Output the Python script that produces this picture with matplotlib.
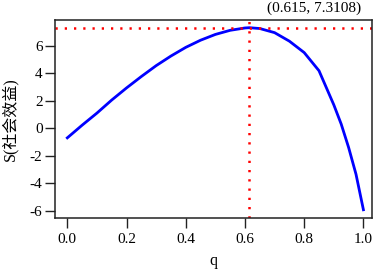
import matplotlib
matplotlib.use('Agg')
import matplotlib.pyplot as plt
from matplotlib.ticker import FormatStrFormatter

plt.rcParams['font.family'] = ['Liberation Serif', 'Noto Sans CJK SC']
plt.rcParams['axes.unicode_minus'] = False

# social benefit S against q
q = [0.0, 0.05, 0.1, 0.15, 0.2, 0.25, 0.3, 0.35, 0.4, 0.45, 0.5, 0.55, 0.6,
     0.615, 0.65, 0.7, 0.75, 0.8, 0.85, 0.9, 0.925, 0.95, 0.975, 1.0]
S = [-0.70, 0.22, 1.10, 2.05, 2.93, 3.76, 4.55, 5.25, 5.88, 6.40, 6.82, 7.12, 7.29,
     7.31, 7.25, 6.95, 6.33, 5.50, 4.18, 1.70, 0.30, -1.40, -3.35, -5.93]
q_max = 0.615
S_max = 7.3108
xticks = [0.0, 0.2, 0.4, 0.6, 0.8, 1.0]
yticks = [-6, -4, -2, 0, 2, 4, 6]

fig = plt.figure(figsize=(3.77, 2.71), dpi=100)
ax = fig.add_axes([55/377, 53/271, 317/377, 198/271])

ax.plot(q, S, color='#0000ff', linewidth=2)
ax.axhline(S_max, color='red', linewidth=1.8, dashes=(0.9, 2.8))
ax.axvline(q_max, color='red', linewidth=1.8, dashes=(0.9, 2.8))

ax.set_xlim(-0.0416, 1.029)
ax.set_ylim(-6.53, 7.87)
ax.set_xticks(xticks)
ax.set_yticks(yticks)
ax.xaxis.set_major_formatter(FormatStrFormatter('%.1f'))
ax.tick_params(direction='out', length=7, width=1, labelsize=11, color='#222222')
ax.tick_params(axis='y', pad=2)
ax.tick_params(axis='x', pad=3.5)
for sp in ax.spines.values():
    sp.set_linewidth(1.1)
    sp.set_color('#222222')

ax.set_xlabel('q', fontsize=11.5, labelpad=5)
ax.set_ylabel('S(社会效益)', fontsize=11.5, labelpad=8)

ax.text(0.967, 1.025, '(%.3f, %.4f)' % (q_max, S_max), transform=ax.transAxes,
        ha='right', va='bottom', fontsize=11)

plt.savefig('out.png', dpi=100)
